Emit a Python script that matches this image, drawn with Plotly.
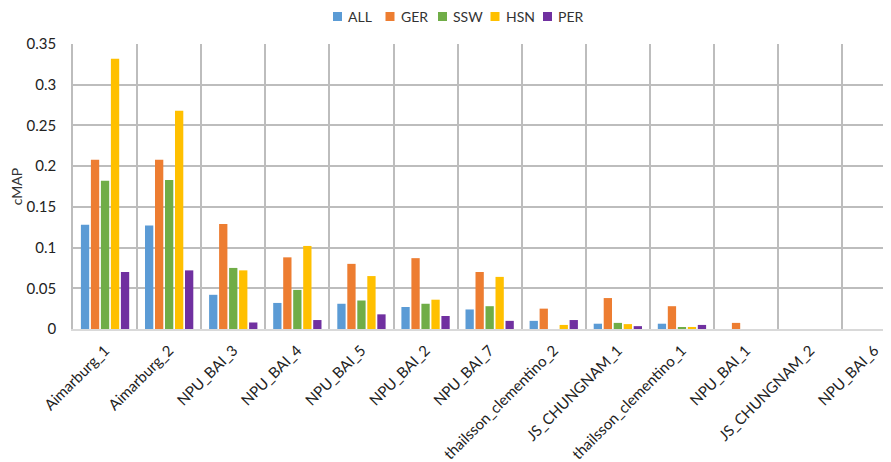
import plotly.graph_objects as go

categories = ["Aimarburg_1", "Aimarburg_2", "NPU_BAI_3", "NPU_BAI_4", "NPU_BAI_5",
              "NPU_BAI_2", "NPU_BAI_7", "thailsson_clementino_2", "JS_CHUNGNAM_1",
              "thailsson_clementino_1", "NPU_BAI_1", "JS_CHUNGNAM_2", "NPU_BAI_6"]

ALL = [0.128, 0.127, 0.042, 0.032, 0.031, 0.027, 0.024, 0.010, 0.0065, 0.0065, 0.0, 0.0, 0.0]
GER = [0.208, 0.208, 0.129, 0.088, 0.080, 0.087, 0.070, 0.025, 0.038, 0.028, 0.0075, 0.0, 0.0]
SSW = [0.182, 0.183, 0.075, 0.048, 0.035, 0.031, 0.028, 0.0, 0.0075, 0.0015, 0.0, 0.0, 0.0]
HSN = [0.332, 0.268, 0.072, 0.102, 0.065, 0.036, 0.064, 0.005, 0.006, 0.0025, 0.0, 0.0, 0.0]
PER = [0.070, 0.072, 0.008, 0.011, 0.018, 0.016, 0.010, 0.011, 0.0035, 0.005, 0.0, 0.0, 0.0]

series = [("ALL", ALL, "#5B9BD5"), ("GER", GER, "#ED7D31"), ("SSW", SSW, "#70AD47"),
          ("HSN", HSN, "#FFC000"), ("PER", PER, "#7030A0")]

xpos = list(range(len(categories)))

# ---- layout geometry (figure pixels) ----
W, H = 891, 462
ML, MR, MT, MB = 65, 0, 36, 141
PW, PH = W - ML - MR, H - MT - MB
CAT_PX = 64.1
PAGE_OFF = 8  # browser body margin


def px_x(sx):  # screen x -> paper x
    return (sx - PAGE_OFF - ML) / PW


def px_y(sy):  # screen y -> paper y
    return 1 - (sy - PAGE_OFF - MT) / PH


fig = go.Figure()
for name, vals, color in series:
    fig.add_trace(go.Bar(x=xpos, y=vals, name=name, marker_color=color,
                         marker_line_width=0, showlegend=False))

font_family = "Lato, 'Open Sans', sans-serif"
grid_color = "#BDBDBD"

# manual legend (compact, Excel-like)
shapes, annotations = [], []
leg_x0, leg_step, leg_cy, sq = 333, 52.5, 16.5, 9
for i, (name, _, color) in enumerate(series):
    sx = leg_x0 + i * leg_step
    shapes.append(dict(type="rect", xref="paper", yref="paper",
                       x0=px_x(sx), x1=px_x(sx + sq),
                       y0=px_y(leg_cy + sq / 2), y1=px_y(leg_cy - sq / 2),
                       fillcolor=color, line_width=0))
    annotations.append(dict(xref="paper", yref="paper", x=px_x(sx + sq + 4),
                            y=px_y(leg_cy), xanchor="left", yanchor="middle",
                            text=name, showarrow=False,
                            font=dict(size=14, color="#333333", family=font_family)))

fig.update_layout(
    width=W, height=H,
    margin=dict(l=ML, r=MR, t=MT, b=MB, autoexpand=False),
    paper_bgcolor="white", plot_bgcolor="white",
    barmode="group", bargap=0.22, bargroupgap=0.17,
    font=dict(family=font_family, size=14, color="#333333"),
    showlegend=False,
    shapes=shapes, annotations=annotations,
    xaxis=dict(
        range=[-0.5, -0.5 + PW / CAT_PX], automargin=False,
        tickmode="array", tickvals=xpos, ticktext=categories,
        tickangle=-45, showgrid=False, zeroline=False,
        showline=True, linecolor="#D9D9D9", linewidth=1.5,
        ticks="", ticklabelstandoff=5, tickfont=dict(size=15, color="#222222"),
        minor=dict(tick0=-0.5, dtick=1, showgrid=True, gridcolor=grid_color,
                   gridwidth=1.5, ticks=""),
    ),
    yaxis=dict(
        range=[0, 0.35], dtick=0.05, tick0=0, automargin=False,
        showgrid=True, gridcolor=grid_color, gridwidth=1.5,
        zeroline=False, showline=True, linecolor=grid_color, linewidth=1.5,
        ticks="", ticklabelstandoff=12, tickfont=dict(size=15, color="#222222"),
        title=dict(text="cMAP", font=dict(size=14, color="#333333"), standoff=6),
    ),
)

fig.write_html("out.html")
